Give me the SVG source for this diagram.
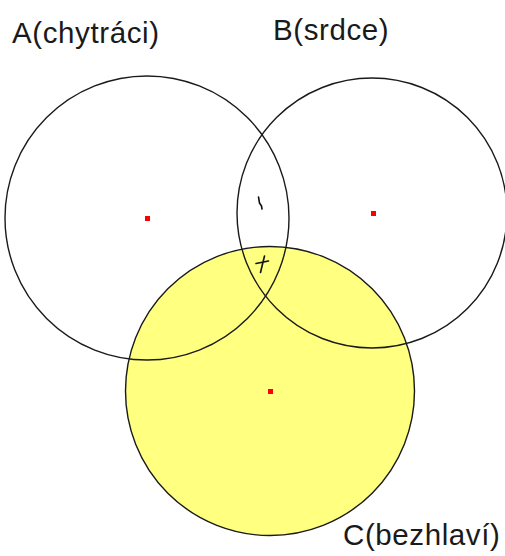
<svg xmlns="http://www.w3.org/2000/svg" width="505" height="556" viewBox="0 0 505 556">
<style>
.ring{fill:none;stroke:#1a1a1a;stroke-width:1.4}
.lbl{font-family:"Liberation Sans",Arial,sans-serif;font-size:29.5px;letter-spacing:0.6px;fill:#1a1a1a}
.dot{fill:#ff0000}
.mark{fill:none;stroke:#111;stroke-width:1.6;stroke-linecap:round;stroke-linejoin:round}
</style>
<rect width="505" height="556" fill="#ffffff"/>
<g id="C">
<circle cx="270" cy="391" r="144.5" fill="#ffff80" stroke="#1a1a1a" stroke-width="1.4"/>
<rect class="dot" x="268" y="389" width="5" height="5"/>
<text class="lbl" x="343" y="545">C(bezhlaví)</text>
</g>
<g id="A">
<circle class="ring" cx="147" cy="218" r="142"/>
<rect class="dot" x="145" y="216" width="5" height="5"/>
<text class="lbl" x="12" y="43">A(chytráci)</text>
</g>
<g id="B">
<circle class="ring" cx="372" cy="213" r="135"/>
<rect class="dot" x="371" y="211" width="5" height="5"/>
<text class="lbl" x="273" y="40">B(srdce)</text>
</g>
<g id="connectors">
<path class="mark" d="M258.5,197 L259.5,203 L261.5,206 L262,209"/>
<path class="mark" d="M264.5,256 L260.5,272.5 M256,263.5 L268.5,261"/>
</g>
</svg>
